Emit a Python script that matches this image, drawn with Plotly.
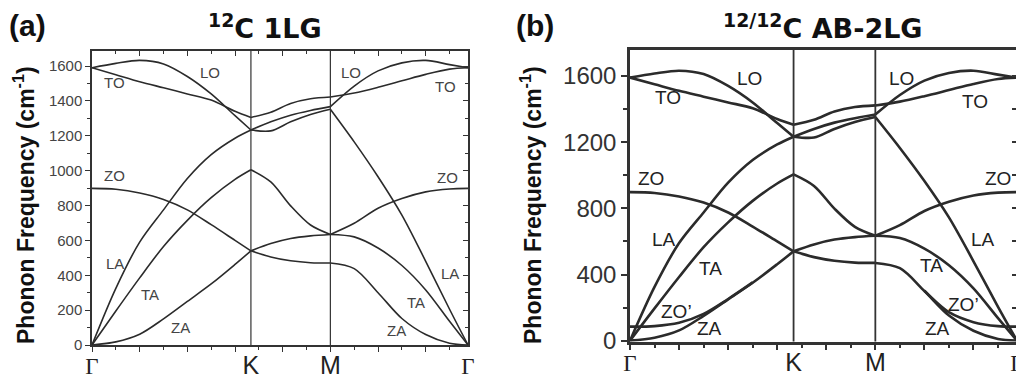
import plotly.graph_objects as go

# ---------------- data ----------------
# path coordinate in units of 2*pi/a : Gamma=0, K=2/3, M=1, Gamma=1+1/sqrt(3)
q = [0.0, 0.1, 0.2, 0.3, 0.4, 0.5, 0.6, 0.6667,
     0.75, 0.8333, 0.9167, 1.0,
     1.1, 1.2, 1.3, 1.4, 1.5, 1.5774]
seg_bounds = [(0, 7), (7, 11), (11, 17)]

sym_pos = [0.0, 0.6667, 1.0, 1.5774]
sym_text = ["Γ", "K", "M", "Γ"]

LO = [1590, 1615, 1632, 1612, 1540, 1440, 1315, 1233, 1280, 1318, 1345, 1367, 1485, 1572, 1618, 1632, 1608, 1590]
TO = [1590, 1550, 1510, 1475, 1440, 1405, 1340, 1305, 1335, 1385, 1412, 1422, 1445, 1478, 1515, 1552, 1582, 1590]
LA = [0, 325, 590, 775, 955, 1092, 1186, 1233, 1228, 1280, 1322, 1352, 1165, 965, 745, 480, 205, 0]
TA = [0, 195, 385, 565, 715, 845, 950, 1005, 935, 798, 688, 634, 620, 556, 456, 316, 136, 0]
ZO = [898, 893, 872, 835, 775, 690, 600, 540, 582, 611, 626, 634, 698, 784, 840, 878, 895, 898]
ZA = [0, 18, 62, 150, 250, 350, 462, 540, 505, 483, 472, 470, 438, 300, 152, 60, 10, 0]
# extra layer-breathing branch of the bilayer
ZOp = [85, 88, 108, 162, 252, 352, None, None, None, None, None, None, None, 302, 172, 112, 88, 85]

bands_1lg = [LO, TO, LA, TA, ZO, ZA]
bands_2lg = [LO, TO, LA, TA, ZO, ZA, ZOp]

labels_a = ["LO", "TO", "ZO", "LA", "TA", "ZA", "LO", "TO", "ZO", "LA", "TA", "ZA"]
labels_a_x = [0.497, 0.096, 0.096, 0.095, 0.242, 0.371, 1.087, 1.485, 1.490, 1.500, 1.360, 1.279]
labels_a_y = [1560, 1505, 970, 468, 287, 100, 1562, 1481, 960, 411, 244, 81]

labels_b = ["LO", "TO", "ZO", "LA", "TA", "ZO’", "ZA", "LO", "TO", "ZO", "LA", "TA", "ZO’", "ZA"]
labels_b_x = [0.489, 0.156, 0.084, 0.139, 0.327, 0.190, 0.322, 1.108, 1.406, 1.501, 1.437, 1.230, 1.359, 1.254]
labels_b_y = [1585, 1471, 983, 614, 437, 175, 71, 1585, 1444, 981, 614, 452, 220, 75]

yticks_a = [0, 200, 400, 600, 800, 1000, 1200, 1400, 1600]
yticks_b = [0, 400, 800, 1200, 1600]

# ---------------- figure ----------------
# the page body has an 8 px margin: the figure is 1016x375 and positions are
# given in screenshot pixels, then shifted by that margin.
OFF = 8
W, H = 1016, 375
SANS = "Liberation Sans, Arial, Helvetica, sans-serif"
WIDE = "DejaVu Sans, Liberation Sans, Arial, sans-serif"
SERIF = "Liberation Serif, Times New Roman, serif"
LINE = "#2b2b2b"


def px(v):
    return (v - OFF) / W


def py(v):
    return 1 - (v - OFF) / H


fig = go.Figure()


def add_bands(bands, xa, ya, width):
    for b in bands:
        for (i0, i1) in seg_bounds:
            xs = [q[i] for i in range(i0, i1 + 1) if b[i] is not None]
            ys = [b[i] for i in range(i0, i1 + 1) if b[i] is not None]
            if len(xs) < 2:
                continue
            fig.add_trace(go.Scatter(
                x=xs, y=ys, mode="lines", xaxis=xa, yaxis=ya,
                line=dict(color=LINE, width=width, shape="spline", smoothing=0.9),
                showlegend=False, hoverinfo="skip"))


add_bands(bands_1lg, "x", "y", 1.6)
add_bands(bands_2lg, "x2", "y2", 2.6)

# empty traces so that the overlay axes are instantiated
for xa, ya in [("x3", "y3"), ("x5", "y"), ("x4", "y4")]:
    fig.add_trace(go.Scatter(x=[], y=[], xaxis=xa, yaxis=ya, showlegend=False, hoverinfo="skip"))

xr = [0, sym_pos[-1]]
yr_a = [0, 1686]
yr_b = [-5, 1757]

dom_ax = [px(92), px(468)]
dom_ay = [py(345), py(51)]
dom_bx = [px(630), px(1017)]
dom_by = [py(341.5), py(50)]

sym_ticktext = [f'<span style="font-family:{SERIF};font-size:23px">Γ</span>' if t == "Γ" else t
                for t in sym_text]

common = dict(automargin=False, showgrid=False, zeroline=False, fixedrange=True)

fig.update_layout(
    width=W, height=H,
    margin=dict(l=0, r=0, t=0, b=0, pad=0, autoexpand=False),
    paper_bgcolor="white", plot_bgcolor="white",
    font=dict(family=SANS, color="#222"),
    # ---- panel (a) ----
    xaxis=dict(domain=dom_ax, range=xr, anchor="y",
               showline=True, mirror=True, linecolor="#333", linewidth=1.5,
               tickmode="linear", tick0=0, dtick=0.2, ticks="outside", ticklen=5,
               tickwidth=1.2, tickcolor="#333", showticklabels=False,
               minor=dict(tick0=0, dtick=0.1, ticks="outside", ticklen=3, tickwidth=1.2,
                          tickcolor="#333", showgrid=False), **common),
    xaxis3=dict(overlaying="x", side="top", anchor="y", range=xr,
                showline=False, tickmode="linear", tick0=0, dtick=0.2,
                ticks="inside", ticklen=5, tickwidth=1.2, tickcolor="#333",
                showticklabels=False,
                minor=dict(tick0=0, dtick=0.1, ticks="inside", ticklen=3, tickwidth=1.2,
                           tickcolor="#333", showgrid=False), **common),
    xaxis5=dict(overlaying="x", side="bottom", anchor="y", range=xr,
                showline=False, tickmode="array", tickvals=sym_pos,
                ticktext=sym_ticktext, ticks="", ticklabelstandoff=3,
                ticklabeloverflow="allow",
                tickfont=dict(size=25, color="#222", family=SANS), **common),
    yaxis=dict(domain=dom_ay, range=yr_a, anchor="x",
               showline=True, mirror=True, linecolor="#333", linewidth=1.5,
               tickmode="array", tickvals=yticks_a, ticks="outside", ticklen=5,
               tickwidth=1.2, tickcolor="#333",
               tickfont=dict(size=15, color="#444", family=SANS),
               minor=dict(tick0=0, dtick=100, ticks="outside", ticklen=3, tickwidth=1.2,
                          tickcolor="#333", showgrid=False), **common),
    yaxis3=dict(overlaying="y", side="right", anchor="x", range=yr_a,
                showline=False, tickmode="array", tickvals=yticks_a,
                ticks="inside", ticklen=5, tickwidth=1.2, tickcolor="#333",
                showticklabels=False,
                minor=dict(tick0=0, dtick=100, ticks="inside", ticklen=3, tickwidth=1.2,
                           tickcolor="#333", showgrid=False), **common),
    # ---- panel (b) ----
    xaxis2=dict(domain=dom_bx, range=xr, anchor="y2",
                showline=True, mirror=True, linecolor="#333", linewidth=2.5,
                tickmode="linear", tick0=0, dtick=0.2, ticks="outside", ticklen=6,
                tickwidth=2, tickcolor="#333", showticklabels=False,
                minor=dict(tick0=0, dtick=0.1, ticks="outside", ticklen=4, tickwidth=2,
                           tickcolor="#333", showgrid=False), **common),
    xaxis4=dict(overlaying="x2", side="bottom", anchor="y2", range=xr,
                showline=False, tickmode="array", tickvals=sym_pos,
                ticktext=sym_ticktext, ticks="", ticklabelstandoff=3,
                ticklabeloverflow="allow",
                tickfont=dict(size=25, color="#222", family=SANS), **common),
    yaxis2=dict(domain=dom_by, range=yr_b, anchor="x2",
                showline=True, mirror=True, linecolor="#333", linewidth=2.5,
                tickmode="array", tickvals=yticks_b, ticks="outside", ticklen=6,
                tickwidth=2, tickcolor="#333",
                tickfont=dict(size=24, color="#333", family=SANS),
                minor=dict(tick0=0, dtick=200, ticks="outside", ticklen=4, tickwidth=2,
                           tickcolor="#333", showgrid=False), **common),
    yaxis4=dict(overlaying="y2", side="right", anchor="x2", range=yr_b,
                showline=False, tickmode="linear", tick0=0, dtick=200,
                ticks="inside", ticklen=5, tickwidth=2, tickcolor="#333",
                showticklabels=False, **common),
)

# high-symmetry vertical lines (K and M)
for xref, w in [("x", 1.2), ("x2", 1.8)]:
    yref = "y domain" if xref == "x" else "y2 domain"
    for xv in sym_pos[1:3]:
        fig.add_shape(type="line", xref=xref, yref=yref, x0=xv, x1=xv, y0=0, y1=1,
                      line=dict(color="#333", width=w), layer="above")

# curve labels
for t, xv, yv in zip(labels_a, labels_a_x, labels_a_y):
    fig.add_annotation(x=xv, y=yv, xref="x", yref="y", text=t, showarrow=False,
                       font=dict(size=15, color="#444", family=SANS))
for t, xv, yv in zip(labels_b, labels_b_x, labels_b_y):
    fig.add_annotation(x=xv, y=yv, xref="x2", yref="y2", text=t, showarrow=False,
                       font=dict(size=19, color="#222", family=SANS))

# panel letters and titles (anchored so that they stay inside the figure)
for xl, t in [(8, "<b>(a)</b>"), (515, "<b>(b)</b>")]:
    fig.add_annotation(x=px(xl), y=1, xref="paper", yref="paper", text=t,
                       showarrow=False, xanchor="left", yanchor="top", borderpad=0,
                       font=dict(size=30, color="#111", family=SANS))
for xc, t in [(265, "<b><sup>12</sup>C 1LG</b>"), (823, "<b><sup>12/12</sup>C AB-2LG</b>")]:
    fig.add_annotation(x=px(xc), y=1, xref="paper", yref="paper", text=t,
                       showarrow=False, xanchor="center", yanchor="top", borderpad=0,
                       font=dict(size=27, color="#111", family=WIDE))

# y-axis titles
for xl in [8, 515]:
    fig.add_annotation(x=px(xl), y=py(205), xref="paper", yref="paper",
                       text="<b>Phonon Frequency (cm<sup>-1</sup>)</b>", textangle=-90,
                       showarrow=False, xanchor="left", yanchor="middle", borderpad=0,
                       font=dict(size=23, color="#111", family=SANS))

fig.write_html("out.html")
